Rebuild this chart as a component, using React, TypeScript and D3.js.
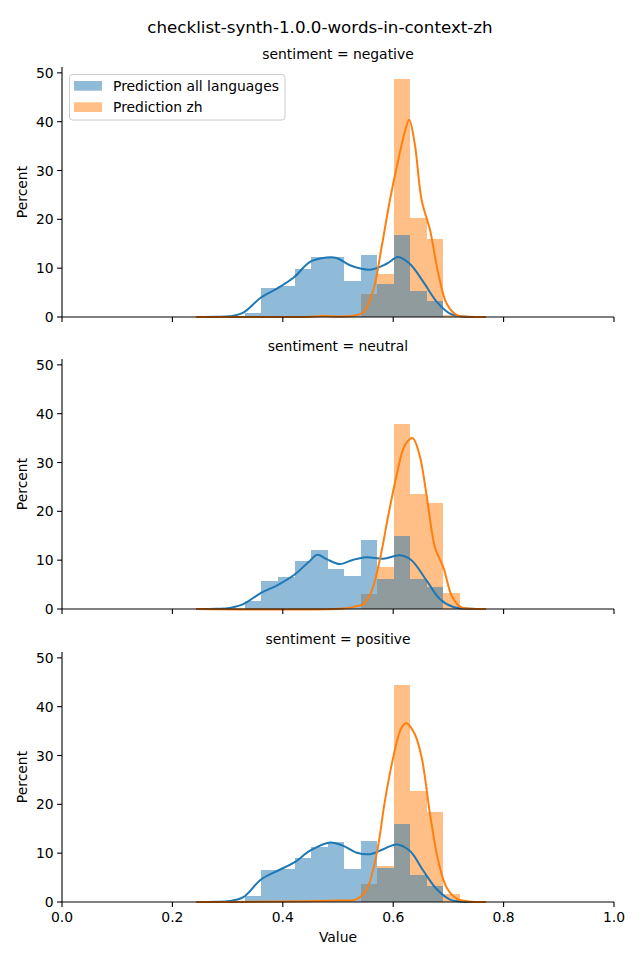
import React, { useEffect, useRef } from 'react';
import * as d3 from 'd3';

// histogram bin edges (Value)
const binEdges = [0.3315, 0.3614, 0.3913, 0.4212, 0.4511, 0.481, 0.5109, 0.5408, 0.5707, 0.6006, 0.6305, 0.6604, 0.6903, 0.7202];

const sentiments = ['negative', 'neutral', 'positive'];

// percent per bin
const allNegative = [0.9, 6.0, 6.3, 9.8, 12.2, 12.2, 7.4, 12.6, 6.8, 16.7, 5.3, 3.3, 0];
const zhNegative = [0, 0, 0, 0, 0, 0, 0, 4.8, 8.9, 48.8, 20.3, 15.9, 0.4];
const allNeutral = [1.6, 5.8, 6.6, 9.8, 12.0, 8.1, 6.8, 14.2, 6.2, 15.0, 6.2, 4.6, 0];
const zhNeutral = [0, 0, 0, 0, 0, 0, 0, 3.1, 8.5, 37.8, 23.6, 21.8, 3.3];
const allPositive = [1.2, 6.6, 6.8, 9.0, 11.3, 12.2, 6.8, 12.5, 7.0, 16.0, 5.5, 3.3, 0];
const zhPositive = [0, 0, 0, 0, 0, 0, 0, 3.7, 7.4, 44.5, 22.7, 18.4, 1.7];

// kde curves [value, percent]
const kdeAllNegative = [[0.243, 0], [0.28, 0.03], [0.304, 0.15], [0.3285, 0.9], [0.3605, 4.0], [0.3907, 5.9], [0.4209, 8.2], [0.4493, 11.3], [0.4795, 12.2], [0.4976, 12.1], [0.5217, 10.6], [0.558, 9.7], [0.588, 10.9], [0.609, 12.3], [0.63, 10.9], [0.6546, 7.2], [0.679, 3.1], [0.703, 0.7], [0.727, 0.1], [0.768, 0]];
const kdeZhNegative = [[0.243, 0], [0.45, 0.05], [0.475, 0.2], [0.5, 0.1], [0.53, 0.3], [0.546, 1.0], [0.564, 5.5], [0.579, 14.3], [0.594, 23.9], [0.609, 32.1], [0.621, 37.9], [0.629, 40.4], [0.639, 35.5], [0.6516, 23.9], [0.6667, 17.8], [0.6817, 8.9], [0.697, 2.7], [0.715, 0.4], [0.739, 0.05], [0.768, 0]];
const kdeAllNeutral = [[0.243, 0], [0.28, 0.05], [0.304, 0.2], [0.3285, 1.0], [0.3605, 3.3], [0.3907, 4.9], [0.4209, 7.0], [0.4493, 9.9], [0.4626, 11.1], [0.4795, 10.2], [0.5036, 9.2], [0.5278, 10.1], [0.552, 10.6], [0.582, 10.3], [0.612, 11.0], [0.633, 10.0], [0.6606, 5.8], [0.6848, 2.0], [0.709, 0.4], [0.739, 0.05], [0.768, 0]];
const kdeZhNeutral = [[0.243, 0], [0.5097, 0.1], [0.531, 0.5], [0.546, 1.0], [0.561, 3.7], [0.576, 10.2], [0.591, 19.1], [0.606, 27.3], [0.621, 33.5], [0.635, 35.0], [0.648, 31.4], [0.6606, 23.2], [0.6757, 12.6], [0.691, 8.5], [0.706, 2.7], [0.721, 0.5], [0.745, 0.03], [0.768, 0]];
const kdeAllPositive = [[0.243, 0], [0.28, 0.05], [0.304, 0.2], [0.3285, 1.0], [0.3605, 4.6], [0.3907, 6.4], [0.4209, 8.1], [0.4493, 10.5], [0.4855, 12.2], [0.5097, 11.5], [0.534, 10.1], [0.558, 9.8], [0.582, 10.8], [0.606, 11.8], [0.63, 10.5], [0.6546, 6.4], [0.679, 2.6], [0.703, 0.5], [0.727, 0.05], [0.768, 0]];
const kdeZhPositive = [[0.243, 0], [0.4976, 0.3], [0.534, 0.6], [0.552, 2.6], [0.5699, 9.8], [0.585, 20.7], [0.6, 29.6], [0.615, 35.7], [0.624, 36.6], [0.639, 34.4], [0.6516, 29.6], [0.6667, 18.0], [0.6817, 8.4], [0.697, 2.9], [0.715, 0.7], [0.739, 0.1], [0.768, 0]];

const xTicks = [0, 0.2, 0.4, 0.6, 0.8, 1.0];
const yTicks = [0, 10, 20, 30, 40, 50];
const legendLabels = ['Prediction all languages', 'Prediction zh'];

const allSeries = [allNegative, allNeutral, allPositive];
const zhSeries = [zhNegative, zhNeutral, zhPositive];
const kdeAll = [kdeAllNegative, kdeAllNeutral, kdeAllPositive];
const kdeZh = [kdeZhNegative, kdeZhNeutral, kdeZhPositive];

const BLUE = '#1f77b4';
const ORANGE = '#ff7f0e';
const FONT = 'DejaVu Sans, sans-serif';

export default function App() {
  const svgRef = useRef<SVGSVGElement>(null);

  useEffect(() => {
    if (!svgRef.current) return;
    const svg = d3.select(svgRef.current);
    svg.selectAll('*').remove();

    const width = 640;
    const height = 960;
    const left = 62, right = 614;
    const bottoms = [317, 609, 902];
    const panelH = 250;

    svg.append('rect').attr('width', width).attr('height', height).attr('fill', 'white');

    svg.append('text')
      .attr('x', 320).attr('y', 33)
      .attr('text-anchor', 'middle')
      .style('font-family', FONT).style('font-size', '16.7px')
      .text('checklist-synth-1.0.0-words-in-context-zh');

    const x = d3.scaleLinear().domain([0, 1]).range([left, right]);

    sentiments.forEach((s, i) => {
      const y0 = bottoms[i];
      const y = d3.scaleLinear().domain([0, 51.2]).range([y0, y0 - panelH]);
      const g = svg.append('g');

      const bins = d3.range(binEdges.length - 1).map(k => ({ x0: binEdges[k], x1: binEdges[k + 1], k }));

      // orange first, blue over it
      g.append('g').attr('shape-rendering', 'crispEdges')
        .selectAll('rect')
        .data(bins.filter(b => zhSeries[i][b.k] > 0))
        .join('rect')
        .attr('x', d => x(d.x0))
        .attr('width', d => x(d.x1) - x(d.x0))
        .attr('y', d => y(zhSeries[i][d.k]))
        .attr('height', d => y0 - y(zhSeries[i][d.k]))
        .attr('fill', ORANGE).attr('fill-opacity', 0.5);

      g.append('g').attr('shape-rendering', 'crispEdges')
        .selectAll('rect')
        .data(bins.filter(b => allSeries[i][b.k] > 0))
        .join('rect')
        .attr('x', d => x(d.x0))
        .attr('width', d => x(d.x1) - x(d.x0))
        .attr('y', d => y(allSeries[i][d.k]))
        .attr('height', d => y0 - y(allSeries[i][d.k]))
        .attr('fill', BLUE).attr('fill-opacity', 0.5);

      const line = d3.line<number[]>()
        .x(d => x(d[0]))
        .y(d => y(Math.max(0, d[1])))
        .curve(d3.curveCatmullRom.alpha(0.5));

      g.append('path').attr('d', line(kdeAll[i]) as string)
        .attr('fill', 'none').attr('stroke', BLUE).attr('stroke-width', 2);
      g.append('path').attr('d', line(kdeZh[i]) as string)
        .attr('fill', 'none').attr('stroke', ORANGE).attr('stroke-width', 2);

      // spines
      g.append('line').attr('x1', left).attr('x2', left).attr('y1', y0).attr('y2', y0 - panelH)
        .attr('stroke', 'black').attr('stroke-width', 1.1);
      g.append('line').attr('x1', left).attr('x2', right).attr('y1', y0).attr('y2', y0)
        .attr('stroke', 'black').attr('stroke-width', 1.1);

      // x ticks
      xTicks.forEach(t => {
        g.append('line').attr('x1', x(t)).attr('x2', x(t)).attr('y1', y0).attr('y2', y0 + 4.9)
          .attr('stroke', 'black').attr('stroke-width', 1.1);
        if (i === 2) {
          g.append('text').attr('x', x(t)).attr('y', y0 + 19.5)
            .attr('text-anchor', 'middle')
            .style('font-family', FONT).style('font-size', '13.9px')
            .text(t.toFixed(1));
        }
      });

      // y ticks
      yTicks.forEach(t => {
        g.append('line').attr('x1', left - 4.9).attr('x2', left).attr('y1', y(t)).attr('y2', y(t))
          .attr('stroke', 'black').attr('stroke-width', 1.1);
        g.append('text').attr('x', left - 8.4).attr('y', y(t) + 5)
          .attr('text-anchor', 'end')
          .style('font-family', FONT).style('font-size', '13.9px')
          .text(String(t));
      });

      g.append('text')
        .attr('transform', `translate(27,${y0 - panelH / 2}) rotate(-90)`)
        .attr('text-anchor', 'middle')
        .style('font-family', FONT).style('font-size', '13.9px')
        .text('Percent');

      g.append('text').attr('x', (left + right) / 2).attr('y', y0 - panelH - 8)
        .attr('text-anchor', 'middle')
        .style('font-family', FONT).style('font-size', '13.9px')
        .text(`sentiment = ${s}`);
    });

    svg.append('text').attr('x', (left + right) / 2).attr('y', 942)
      .attr('text-anchor', 'middle')
      .style('font-family', FONT).style('font-size', '13.9px')
      .text('Value');

    // legend
    const lg = svg.append('g');
    lg.append('rect').attr('x', 69.5).attr('y', 74.5).attr('width', 215.5).attr('height', 45.5)
      .attr('rx', 3).attr('fill', 'white').attr('fill-opacity', 0.8)
      .attr('stroke', '#cccccc').attr('stroke-width', 1);
    [BLUE, ORANGE].forEach((c, k) => {
      const yy = 81 + k * 21.3;
      lg.append('rect').attr('x', 74).attr('y', yy).attr('width', 28).attr('height', 9.7)
        .attr('fill', c).attr('fill-opacity', 0.5);
      lg.append('text').attr('x', 113).attr('y', yy + 10)
        .style('font-family', FONT).style('font-size', '13.9px')
        .text(legendLabels[k]);
    });
  }, []);

  return (
    <div style={{ position: 'absolute', left: 0, top: 0 }}>
      <svg ref={svgRef} width={640} height={960} style={{ display: 'block' }}></svg>
    </div>
  );
}
